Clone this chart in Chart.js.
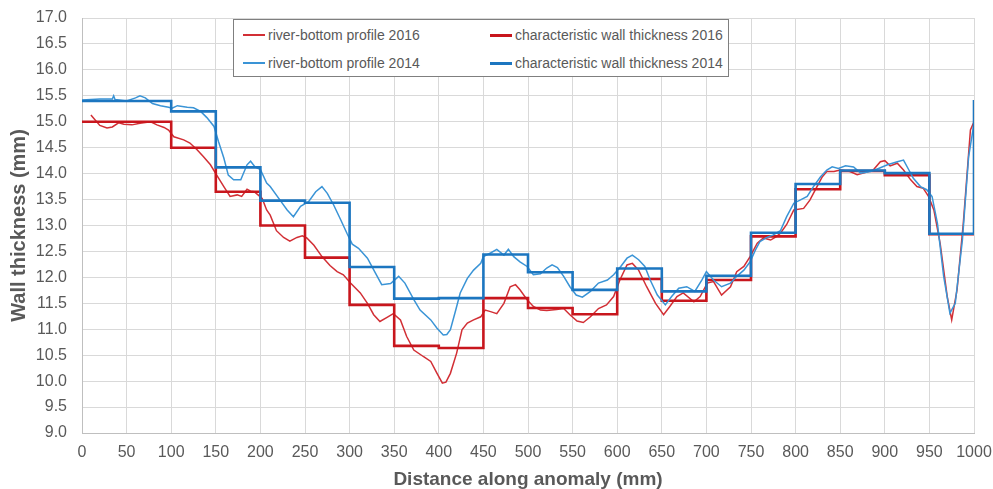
<!DOCTYPE html>
<html>
<head>
<meta charset="utf-8">
<script src="https://cdn.jsdelivr.net/npm/chart.js@4/dist/chart.umd.min.js"></script>
<style>
  html, body { margin: 0; padding: 0; background: #fff; }
  #wrap { position: relative; width: 993px; height: 489px; }
  #legend {
    position: absolute; left: 233px; top: 19px; width: 494px; height: 56px;
    border: 1px solid #7f7f7f; background: #fff;
    font-family: "Liberation Sans", Arial, sans-serif; font-size: 14px; color: #595959;
  }
  .item { position: absolute; height: 20px; line-height: 20px; white-space: nowrap; }
  .item i { position: absolute; left: 0; width: 22px; top: 9px; }
  .item span { position: absolute; left: 25px; }
</style>
</head>
<body>
<div id="wrap">
  <canvas id="wallChart" width="993" height="489"></canvas>
  <div id="legend"></div>
</div>
<script>
// === Data ===
const stepEdges = [0, 100, 150, 200, 250, 300, 350, 400, 450, 500, 550, 600, 650, 700, 750, 800, 850, 900, 950, 1000];
const wall2016 = [15.0, 14.5, 13.65, 13.0, 12.38, 11.47, 10.68, 10.64, 11.6, 11.41, 11.29, 11.97, 11.55, 11.95, 12.79, 13.7, 14.05, 13.97, 12.83];
const wall2014 = [15.4, 15.2, 14.12, 13.48, 13.44, 12.2, 11.59, 11.6, 12.44, 12.1, 11.76, 12.17, 11.73, 12.03, 12.86, 13.8, 14.06, 14.01, 12.84];
const wall2014End = 15.42;

const prof2016Dist = [10, 15, 20, 28, 34, 41, 47, 56, 65, 77, 84, 92, 97, 103, 114, 121, 129, 136, 144, 151,
  159, 166, 174, 179, 185, 189, 193, 198, 202, 207, 211, 218, 226, 233, 241, 247, 252, 260, 269, 278,
  286, 293, 301, 312, 320, 327, 334, 342, 349, 357, 364, 372, 383, 391, 398, 404, 408, 413, 420, 426,
  432, 439, 447, 452, 458, 465, 473, 480, 486, 491, 499, 506, 514, 521, 532, 540, 547, 555, 562, 570,
  579, 588, 596, 603, 611, 617, 624, 633, 643, 652, 659, 667, 674, 686, 693, 701, 708, 717, 727, 734,
  742, 749, 757, 764, 772, 778, 783, 790, 798, 809, 816, 824, 830, 835, 843, 850, 861, 869, 876, 887,
  895, 900, 906, 914, 921, 929, 936, 943, 949, 955, 962, 970, 975, 981, 988, 996, 1000];
const prof2016 = [15.13, 15.03, 14.93, 14.88, 14.9, 14.98, 14.95, 14.94, 14.97, 15.0, 14.94, 14.89, 14.84, 14.71, 14.65, 14.59, 14.46, 14.33, 14.17, 13.97,
  13.75, 13.56, 13.59, 13.56, 13.7, 13.66, 13.65, 13.58, 13.52, 13.3, 13.2, 12.9, 12.77, 12.7, 12.77, 12.8, 12.76, 12.62, 12.4, 12.23,
  12.11, 12.05, 11.89, 11.7, 11.5, 11.28, 11.15, 11.23, 11.3, 11.18, 10.86, 10.6, 10.47, 10.38, 10.15, 9.96, 9.98, 10.15, 10.54, 10.99,
  11.12, 11.18, 11.24, 11.37, 11.34, 11.3, 11.5, 11.82, 11.86, 11.76, 11.57, 11.44, 11.37, 11.36, 11.38, 11.4, 11.28, 11.16, 11.13, 11.24,
  11.4, 11.47, 11.63, 11.95, 12.24, 12.27, 12.14, 11.82, 11.5, 11.28, 11.44, 11.63, 11.7, 11.53, 11.63, 11.89, 11.92, 11.66, 11.82, 12.11,
  12.21, 12.4, 12.66, 12.76, 12.72, 12.78, 12.85, 13.02, 13.3, 13.33, 13.49, 13.75, 13.94, 14.04, 14.04, 14.07, 14.04, 13.98, 14.01, 14.07,
  14.23, 14.25, 14.15, 14.2, 14.07, 13.88, 13.75, 13.72, 13.56, 13.3, 12.66, 11.63, 11.18, 11.76, 13.04, 14.84, 15.0];

const prof2014Dist = [0, 20, 34, 35.5, 37, 50, 60, 65, 71, 79, 88, 97, 101, 107, 118, 125, 133, 140, 148, 153,
  159, 164, 170, 178, 185, 189, 194, 200, 207, 211, 222, 230, 237, 245, 254, 262, 269, 275, 282, 290,
  297, 303, 310, 320, 329, 336, 346, 355, 362, 372, 379, 391, 398, 405, 409, 413, 419, 424, 432, 439,
  447, 450, 458, 465, 473, 478, 484, 491, 499, 506, 514, 521, 527, 533, 540, 547, 554, 561, 570, 579,
  589, 596, 604, 611, 617, 624, 631, 637, 645, 654, 661, 669, 678, 687, 695, 700, 708, 717, 727, 734,
  742, 749, 755, 760, 768, 775, 783, 790, 798, 805, 813, 820, 828, 835, 841, 848, 856, 865, 873, 884,
  893, 903, 914, 921, 927, 932, 940, 947, 953, 959, 966, 973, 979, 987, 994, 1000];
const prof2014 = [15.42, 15.44, 15.44, 15.5, 15.43, 15.4, 15.46, 15.5, 15.46, 15.35, 15.31, 15.28, 15.26, 15.31, 15.28, 15.27, 15.2, 15.08, 14.91, 14.62,
  14.3, 13.97, 13.88, 13.88, 14.17, 14.24, 14.13, 14.08, 13.82, 13.75, 13.49, 13.3, 13.17, 13.37, 13.46, 13.65, 13.75, 13.62, 13.4, 13.11,
  12.85, 12.64, 12.56, 12.37, 12.08, 11.86, 11.88, 12.02, 11.89, 11.57, 11.37, 11.18, 11.02, 10.89, 10.9, 10.99, 11.37, 11.7, 11.98, 12.14,
  12.27, 12.4, 12.47, 12.54, 12.43, 12.54, 12.4, 12.3, 12.21, 12.05, 12.07, 12.18, 12.24, 12.19, 12.02, 11.82, 11.66, 11.62, 11.73, 11.89,
  11.95, 12.05, 12.21, 12.37, 12.43, 12.34, 12.21, 11.95, 11.66, 11.47, 11.63, 11.79, 11.82, 11.73, 11.95, 12.11, 11.95, 11.82, 11.89, 12.02,
  12.14, 12.3, 12.53, 12.69, 12.77, 12.82, 12.9, 13.17, 13.43, 13.49, 13.56, 13.75, 13.94, 14.07, 14.13, 14.1, 14.15, 14.13, 14.01, 14.04,
  14.1, 14.17, 14.23, 14.26, 14.07, 13.91, 13.75, 13.69, 13.56, 13.04, 12.02, 11.31, 11.5, 12.72, 14.33, 14.97];

const labels = ['river-bottom profile 2016', 'characteristic wall thickness 2016',
                'river-bottom profile 2014', 'characteristic wall thickness 2014'];

// === Helpers ===
const toPoints = (xs, ys) => xs.map((x, i) => ({ x: x, y: ys[i] }));
// first point at 0, then one point per segment end; the value holds until that edge
const toSteps = (vals) => {
  const pts = [{ x: stepEdges[0], y: vals[0] }];
  vals.forEach((v, i) => pts.push({ x: stepEdges[i + 1], y: v }));
  return pts;
};

const RED_THIN = '#d22f35';
const RED_THICK = '#c8161d';
const BLUE_THIN = '#3a94d6';
const BLUE_THICK = '#1c76c0';
const TEXT = '#595959';
const GRID = '#d9d9d9';

const steps2016 = toSteps(wall2016);
const steps2014 = toSteps(wall2014);
steps2014.push({ x: 1000, y: wall2014End });

const datasets = [
  { label: labels[0], data: toPoints(prof2016Dist, prof2016), borderColor: RED_THIN, borderWidth: 1.5, order: 3 },
  { label: labels[1], data: steps2016, borderColor: RED_THICK, borderWidth: 2.6, stepped: 'after', order: 2 },
  { label: labels[2], data: toPoints(prof2014Dist, prof2014), borderColor: BLUE_THIN, borderWidth: 1.5, order: 1 },
  { label: labels[3], data: steps2014, borderColor: BLUE_THICK, borderWidth: 2.6, stepped: 'after', order: 0 }
];
datasets.forEach(d => { d.pointRadius = 0; d.fill = false; d.tension = 0; d.borderJoinStyle = 'miter'; });

// === Chart ===
new Chart(document.getElementById('wallChart'), {
  type: 'line',
  data: { datasets: datasets },
  options: {
    responsive: false,
    animation: false,
    layout: { padding: 0 },
    plugins: { legend: { display: false }, tooltip: { enabled: false } },
    scales: {
      x: {
        type: 'linear', min: 0, max: 1000,
        ticks: { stepSize: 50, color: TEXT, padding: 10, maxRotation: 0, autoSkip: false,
                 font: { family: 'Liberation Sans', size: 16 },
                 callback: (v) => String(v) },
        grid: { color: GRID, drawTicks: false },
        border: { color: '#bfbfbf' },
        title: { display: true, text: 'Distance along anomaly (mm)', color: TEXT,
                 font: { family: 'Liberation Sans', size: 19, weight: 'bold', lineHeight: 1 },
                 padding: { top: 0, bottom: 0 } },
        afterFit: (scale) => {
          scale.height = 56;
          scale.paddingLeft = 0;
          scale.paddingRight = 19;
        }
      },
      y: {
        min: 9, max: 17,
        ticks: { stepSize: 0.5, color: TEXT, padding: 15, autoSkip: false,
                 font: { family: 'Liberation Sans', size: 16 },
                 callback: (v) => v.toFixed(1) },
        grid: { color: GRID, drawTicks: false },
        border: { color: '#bfbfbf' },
        title: { display: true, text: 'Wall thickness (mm)', color: TEXT,
                 font: { family: 'Liberation Sans', size: 20, weight: 'bold', lineHeight: 1 },
                 padding: { top: 9, bottom: 0 } },
        afterFit: (scale) => {
          scale.width = 82;
          scale.paddingTop = 18;
          scale.paddingBottom = 0;
        }
      }
    }
  }
});

// === Legend (two columns, boxed) ===
const legendBox = document.getElementById('legend');
const legendSpots = [[9, 5], [256, 5], [9, 33], [256, 33]];
const legendStyles = [[RED_THIN, 2], [RED_THICK, 3], [BLUE_THIN, 2], [BLUE_THICK, 3]];
labels.forEach((text, i) => {
  const item = document.createElement('div');
  item.className = 'item';
  item.style.left = legendSpots[i][0] + 'px';
  item.style.top = legendSpots[i][1] + 'px';
  const line = document.createElement('i');
  line.style.borderTop = legendStyles[i][1] + 'px solid ' + legendStyles[i][0];
  const label = document.createElement('span');
  label.textContent = text;
  item.appendChild(line);
  item.appendChild(label);
  legendBox.appendChild(item);
});
</script>
</body>
</html>
